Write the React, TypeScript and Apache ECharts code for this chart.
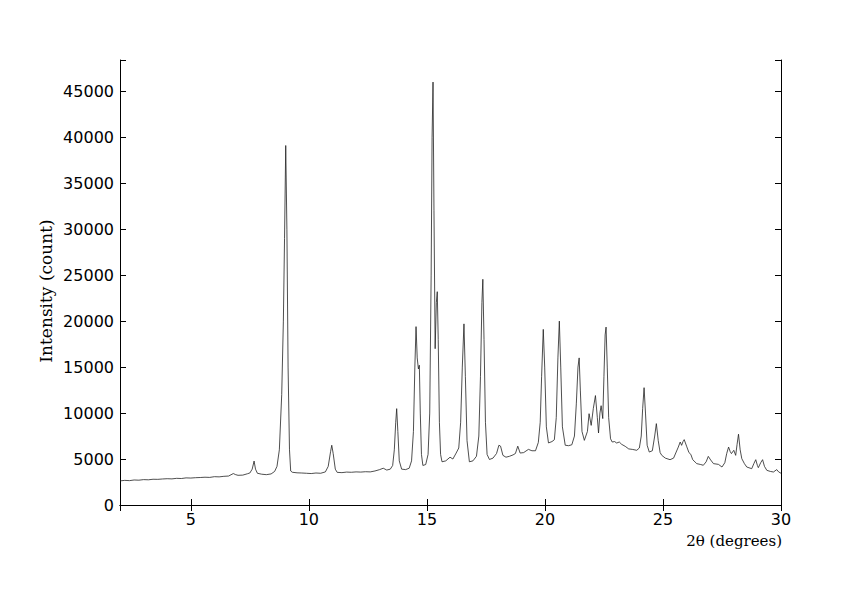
import React, { useEffect, useRef } from "react";
import * as echarts from "echarts";

// [2θ (degrees), intensity (count)]
const scanLowAngle: number[][] = [
  [2.0, 2620], [2.2, 2680], [2.4, 2650], [2.6, 2720], [2.8, 2700], [3.0, 2760],
  [3.2, 2740], [3.4, 2800], [3.6, 2790], [3.8, 2830], [4.0, 2860], [4.2, 2840],
  [4.4, 2900], [4.6, 2880], [4.8, 2950], [5.0, 2930], [5.2, 2970], [5.4, 2990],
  [5.6, 3020], [5.8, 3000], [6.0, 3080], [6.2, 3060], [6.4, 3120], [6.6, 3150],
  [6.8, 3420], [6.9, 3300], [7.0, 3230], [7.2, 3250], [7.4, 3400], [7.5, 3480],
  [7.6, 3900], [7.68, 4780], [7.74, 3900], [7.82, 3450], [8.0, 3350], [8.2, 3300],
  [8.4, 3380], [8.55, 3650], [8.65, 4200], [8.75, 6000], [8.85, 12000], [8.92, 20000],
  [8.97, 29000], [9.02, 39100], [9.07, 30000], [9.12, 15000], [9.18, 6000], [9.23, 3700],
];

const scanMidAngle: number[][] = [
  [9.3, 3560], [9.5, 3500], [9.7, 3480], [9.9, 3450], [10.1, 3420], [10.3, 3480],
  [10.5, 3450], [10.7, 3600], [10.82, 4200], [10.92, 5800], [10.97, 6500], [11.03, 5600],
  [11.12, 3900], [11.2, 3550], [11.4, 3520], [11.6, 3580], [11.8, 3560], [12.0, 3600],
  [12.2, 3580], [12.4, 3620], [12.6, 3600], [12.8, 3700], [13.0, 3850], [13.15, 4000],
  [13.3, 3800], [13.45, 3900], [13.55, 4300], [13.62, 6000], [13.68, 9000], [13.72, 10480],
  [13.77, 8000], [13.83, 4800], [13.93, 3900], [14.1, 3850], [14.25, 4000], [14.35, 4800],
  [14.43, 8000], [14.49, 15000], [14.54, 19400], [14.59, 16000], [14.64, 14800], [14.68, 15200],
  [14.72, 10000], [14.77, 5500], [14.83, 4300], [14.95, 4400], [15.05, 5500], [15.12, 10000],
  [15.18, 25000], [15.22, 40000], [15.26, 46000], [15.3, 32000], [15.35, 17000], [15.4, 22000],
  [15.44, 23200], [15.48, 18000], [15.53, 9000], [15.58, 5500], [15.64, 4700], [15.8, 4800],
  [15.98, 5200], [16.1, 5000], [16.24, 5650], [16.35, 6200], [16.43, 9000], [16.5, 15000],
  [16.57, 19700], [16.63, 14000], [16.7, 7000], [16.8, 4700], [16.95, 4800], [17.1, 5300],
  [17.2, 7500], [17.27, 14000], [17.33, 22000], [17.37, 24550], [17.42, 18000], [17.48, 9000],
  [17.55, 5500], [17.65, 4950],
];

const scanHumpAngle: number[][] = [
  [17.8, 5100], [17.95, 5600], [18.05, 6500], [18.12, 6400], [18.22, 5400], [18.35, 5200],
  [18.5, 5300], [18.65, 5450], [18.75, 5600], [18.85, 6400], [18.95, 5650], [19.1, 5700],
  [19.3, 6050], [19.45, 5900], [19.6, 5900], [19.72, 6800], [19.8, 9000], [19.86, 14000],
  [19.93, 19100], [19.99, 15000], [20.06, 8500], [20.15, 6750], [20.3, 6900], [20.4, 7100],
  [20.48, 9500], [20.55, 16000], [20.61, 20000], [20.67, 15000], [20.74, 8500], [20.86, 6500],
  [21.0, 6450], [21.14, 6550], [21.25, 7500], [21.33, 11000], [21.4, 15000], [21.45, 16000],
  [21.5, 12500], [21.57, 8000], [21.67, 7030], [21.8, 8000], [21.87, 9930], [21.96, 8660],
  [22.05, 10500], [22.14, 11900], [22.22, 9500], [22.27, 7830], [22.33, 10000], [22.38, 10800],
  [22.45, 9400], [22.5, 14000], [22.55, 18500], [22.59, 19350], [22.64, 15000], [22.7, 9500],
  [22.78, 7200], [22.85, 6850], [22.95, 6900], [23.04, 6740],
];

const scanHighAngle: number[][] = [
  [23.15, 6850], [23.25, 6600], [23.4, 6380], [23.55, 6100], [23.7, 6050], [23.89, 5950],
  [24.0, 6200], [24.08, 7500], [24.14, 10500], [24.2, 12760], [24.26, 10000], [24.33, 6500],
  [24.42, 5760], [24.55, 5900], [24.65, 7500], [24.72, 8850], [24.8, 7000], [24.88, 5700],
  [24.95, 5400], [25.1, 5100], [25.3, 4930], [25.45, 5100], [25.56, 5760], [25.65, 6300],
  [25.73, 6850], [25.79, 6490], [25.85, 6900], [25.9, 7110], [26.0, 6400], [26.1, 5700],
  [26.18, 5510], [26.26, 4930], [26.43, 4500], [26.6, 4400], [26.71, 4320], [26.83, 4700],
  [26.92, 5290], [27.02, 4900], [27.14, 4500], [27.35, 4420], [27.5, 4130], [27.62, 4600],
  [27.7, 5600], [27.78, 6300], [27.85, 5800], [27.9, 5590], [28.0, 5950], [28.08, 5400],
  [28.14, 6600], [28.2, 7700], [28.27, 6000], [28.34, 5040], [28.45, 4500], [28.55, 4130],
  [28.76, 3950], [28.85, 4500], [28.93, 4930], [29.0, 4300], [29.04, 4060], [29.14, 4600],
  [29.22, 4930], [29.3, 4200], [29.4, 3770], [29.55, 3650], [29.68, 3590], [29.82, 3850],
  [29.9, 3600], [30.0, 3450],
];

const xRange = [2, 30];
const yRange = [0, 48400];
const yStep = 5000;
const xTitle = "2θ (degrees)";
const yTitle = "Intensity (count)";

export default function App() {
  const ref = useRef<HTMLDivElement>(null);

  useEffect(() => {
    document.body.style.margin = "0";
    if (!ref.current) return;
    const chart = echarts.init(ref.current, undefined, { renderer: "svg" });
    const data = [...scanLowAngle, ...scanMidAngle, ...scanHumpAngle, ...scanHighAngle];

    const tickLabel = {
      color: "#000",
      fontFamily: "DejaVu Sans",
      fontSize: 16,
    };
    const line = { show: true, lineStyle: { color: "#000", width: 1 } };
    const tick = { show: true, inside: true, length: 6, lineStyle: { color: "#000", width: 1 } };

    chart.setOption({
      animation: false,
      backgroundColor: "#fff",
      grid: { left: 120, right: 61, top: 60, bottom: 90, containLabel: false },
      xAxis: [
        {
          type: "value",
          min: xRange[0],
          max: xRange[1],
          position: "bottom",
          axisLine: line,
          axisTick: tick,
          splitLine: { show: false },
          axisLabel: {
            ...tickLabel,
            margin: 6,
            formatter: (v: number) => (v % 5 === 0 ? String(v) : ""),
          },
        },
        {
          type: "value",
          min: xRange[0],
          max: xRange[1],
          position: "top",
          axisLine: line,
          axisTick: tick,
          splitLine: { show: false },
          axisLabel: { show: false },
        },
      ],
      yAxis: [
        {
          type: "value",
          min: yRange[0],
          max: yRange[1],
          interval: yStep,
          position: "left",
          axisLine: line,
          axisTick: tick,
          splitLine: { show: false },
          axisLabel: {
            ...tickLabel,
            margin: 6,
            formatter: (v: number) => (v % yStep === 0 ? String(v) : ""),
          },
        },
        {
          type: "value",
          min: yRange[0],
          max: yRange[1],
          interval: yStep,
          position: "right",
          axisLine: line,
          axisTick: tick,
          splitLine: { show: false },
          axisLabel: { show: false },
        },
      ],
      graphic: [
        {
          type: "text",
          x: 46,
          y: 291,
          rotation: Math.PI / 2,
          style: {
            text: yTitle,
            fontFamily: "DejaVu Serif",
            fontSize: 17,
            fill: "#000",
            textAlign: "center",
            textVerticalAlign: "middle",
          },
        },
        {
          type: "text",
          x: 782,
          y: 541,
          style: {
            text: xTitle,
            fontFamily: "DejaVu Serif",
            fontSize: 15,
            fill: "#000",
            textAlign: "right",
            textVerticalAlign: "middle",
          },
        },
      ],
      series: [
        {
          type: "line",
          xAxisIndex: 0,
          yAxisIndex: 0,
          data,
          showSymbol: false,
          symbol: "none",
          smooth: false,
          lineStyle: { color: "#222", width: 0.8 },
        },
      ],
    });

    return () => chart.dispose();
  }, []);

  return (
    <div
      ref={ref}
      style={{ position: "fixed", left: 0, top: 0, width: 842, height: 595, background: "#fff" }}
    />
  );
}
